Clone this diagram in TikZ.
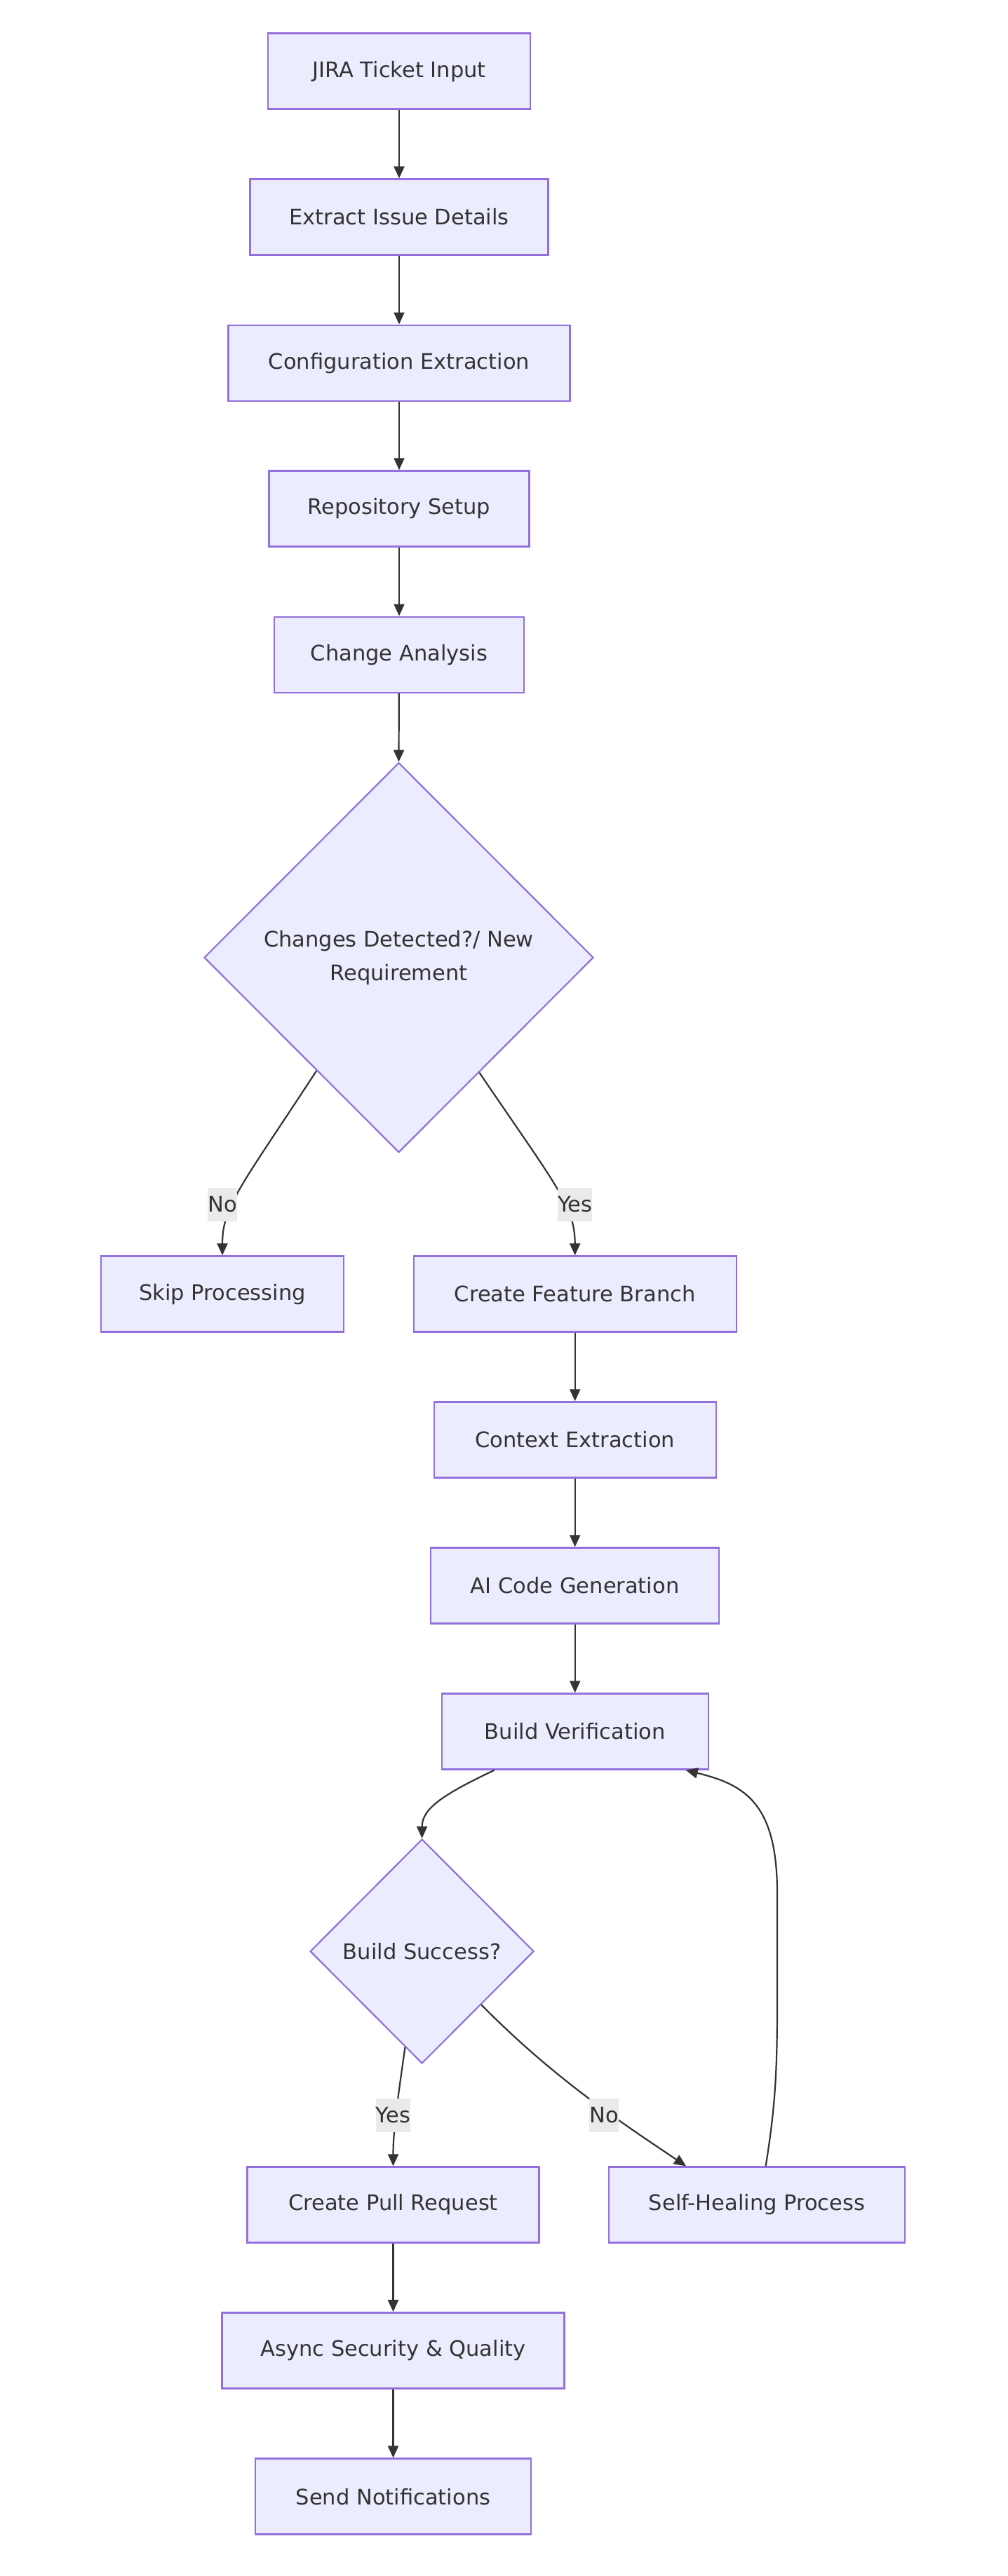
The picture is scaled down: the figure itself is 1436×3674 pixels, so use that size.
\documentclass[tikz,border=0pt]{standalone}
\usepackage{fontspec}
\setmainfont{DejaVu Sans}
\usetikzlibrary{shapes.geometric,arrows.meta}
\definecolor{boxfill}{HTML}{ECECFF}
\definecolor{boxline}{HTML}{9370DB}
\definecolor{edgecol}{HTML}{333333}
\definecolor{txtcol}{HTML}{333333}
\definecolor{lblfill}{HTML}{EAEAEA}
\tikzset{
  proc/.style={draw=boxline, fill=boxfill, line width=2.4pt, rectangle, inner sep=0pt,
    minimum height=108pt, text=txtcol, font=\fontsize{30.5}{48}\selectfont},
  decision/.style={draw=boxline, fill=boxfill, line width=2.2pt, diamond, inner sep=0pt,
    text=txtcol, font=\fontsize{30.5}{48}\selectfont, align=center},
  conn/.style={draw=edgecol, line width=2.2pt, -{Triangle[length=17pt,width=15pt]}},
  elabel/.style={fill=lblfill, inner sep=0pt, minimum height=48pt, text=txtcol,
    font=\fontsize{30.5}{48}\selectfont}
}
\begin{document}
\begin{tikzpicture}[x=1pt,y=-1pt]
\useasboundingbox (0,0) rectangle (1436,3674);
\fill[white] (0,0) rectangle (1436,3674);
% nodes
\node[proc, minimum width=374pt] (jira) at (569,101.7) {JIRA Ticket Input};
\node[proc, minimum width=425pt] (extract) at (569,309.5) {Extract Issue Details};
\node[proc, minimum width=487pt] (config) at (569,517.7) {Configuration Extraction};
\node[proc, minimum width=371pt] (repo) at (569,725.5) {Repository Setup};
\node[proc, minimum width=356pt] (change) at (569,933.7) {Change Analysis};
\node[decision, minimum width=555pt, minimum height=556pt] (dec1) at (568.5,1365.7)
  {Changes Detected?/ New\\Requirement};
\node[proc, minimum width=346pt] (skip) at (317,1845.6) {Skip Processing};
\node[proc, minimum width=460pt] (feat) at (819.7,1845.6) {Create Feature Branch};
\node[proc, minimum width=402pt] (ctx) at (819.7,2053.6) {Context Extraction};
\node[proc, minimum width=411pt] (ai) at (819.7,2261.5) {AI Code Generation};
\node[proc, minimum width=380pt] (bv) at (819.7,2469.5) {Build Verification};
\node[decision, minimum width=319pt, minimum height=320pt] (dec2) at (601.6,2783) {Build Success?};
\node[proc, minimum width=416pt] (cpr) at (560.5,3144.5) {Create Pull Request};
\node[proc, minimum width=422pt] (sh) at (1079,3144.5) {Self-Healing Process};
\node[proc, minimum width=488pt] (async) at (560.5,3352.4) {Async Security \& Quality};
\node[proc, minimum width=393pt] (notif) at (560.5,3560.6) {Send Notifications};
% straight connectors
\draw[conn] (jira) -- (extract);
\draw[conn] (extract) -- (config);
\draw[conn] (config) -- (repo);
\draw[conn] (repo) -- (change);
\draw[conn] (change) -- (dec1.north);
\draw[conn] (feat) -- (ctx);
\draw[conn] (ctx) -- (ai);
\draw[conn] (ai) -- (bv);
\draw[conn] (cpr) -- (async);
\draw[conn] (async) -- (notif);
% curved connectors
\draw[conn] (dec1.234.6) .. controls (345,1690) and (317,1720) .. (skip.north);
\draw[conn] (dec1.305.4) .. controls (792,1690) and (819.7,1720) .. (feat.north);
\draw[conn] ([xshift=-115pt]bv.south) .. controls (630,2560) and (601.6,2580) .. (dec2.north);
\draw[conn] (dec2.260.2) .. controls (566,3000) and (560.5,3040) .. (cpr.north);
\draw[conn] (dec2.318) .. controls (790,2965) and (890,3030) .. ([xshift=-101pt]sh.north);
\draw[conn] ([xshift=12.6pt]sh.north) .. controls (1106,3000) and (1108,2950) .. (1108,2850)
  -- (1108,2700) .. controls (1108,2570) and (1060,2545) .. ([xshift=158pt]bv.south);
% edge labels
\node[elabel, minimum width=40pt] (lno1) at (317,1718) {No};
\node[elabel, minimum width=49pt] (lyes1) at (819.7,1718) {Yes};
\node[elabel, minimum width=49pt] (lyes2) at (560.5,3016.7) {Yes};
\node[elabel, minimum width=40pt] (lno2) at (861,3016.7) {No};
\end{tikzpicture}
\end{document}
